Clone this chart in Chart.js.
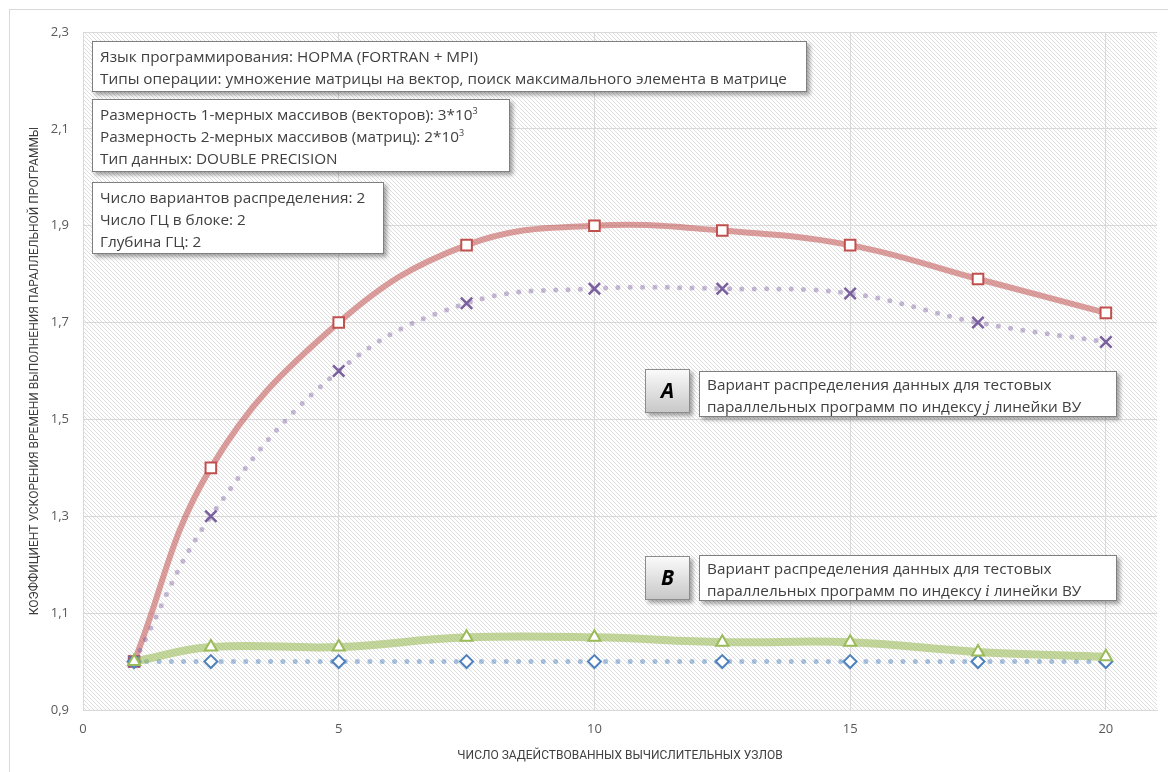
<!DOCTYPE html>
<html>
<head>
<meta charset="utf-8">
<script src="https://cdn.jsdelivr.net/npm/chart.js@4"></script>
<style>
  body { margin: 0; background: #fff; }
  #wrap { position: relative; width: 1168px; height: 772px; overflow: hidden; }
  #frame { position: absolute; left: 9px; top: 9px; width: 1200px; height: 800px; border: 1px solid #d9d9d9; }
  canvas { position: absolute; left: 0; top: 0; }
  .box {
    position: absolute; background: #fff; border: 1px solid #7f7f7f;
    box-shadow: 3px 3px 4px rgba(0,0,0,0.35);
    font-family: "Open Sans", sans-serif; font-size: 15.3px; color: #404040;
    line-height: 22px; padding: 3px 0 0 7px; box-sizing: border-box; white-space: nowrap;
  }
  .box sup { font-size: 9px; line-height: 0; vertical-align: 6px; }
  .tag {
    position: absolute; border: 1px solid #8c8c8c; box-sizing: border-box;
    background: linear-gradient(#fafafa, #c8c8c8);
    box-shadow: 3px 3px 4px rgba(0,0,0,0.35);
    font-family: "Open Sans", sans-serif; font-weight: bold; font-style: italic;
    font-size: 21px; color: #000; text-align: center; line-height: 41px;
  }
  .m { font-family: "DejaVu Serif", serif; font-style: italic; font-size: 14px; }
</style>
</head>
<body>
<div id="wrap">
  <div id="frame"></div>
  <canvas id="chart" width="1168" height="772"></canvas>

  <div class="box" style="left:92px; top:41px; width:715px; height:51px;">
    Язык программирования: НОРМА (FORTRAN + MPI)<br>
    Типы операции: умножение матрицы на вектор, поиск максимального элемента в матрице
  </div>
  <div class="box" style="left:92px; top:99px; width:418px; height:73px;">
    Размерность 1-мерных массивов (векторов): 3*10<sup>3</sup><br>
    Размерность 2-мерных массивов (матриц): 2*10<sup>3</sup><br>
    Тип данных: DOUBLE PRECISION
  </div>
  <div class="box" style="left:92px; top:182px; width:292px; height:72px;">
    Число вариантов распределения: 2<br>
    Число ГЦ в блоке: 2<br>
    Глубина ГЦ: 2
  </div>

  <div class="tag" style="left:645px; top:369px; width:45px; height:44px;">A</div>
  <div class="box" style="left:699px; top:371px; width:418px; height:46px; padding-top:1px;">
    Вариант распределения данных для тестовых<br>
    параллельных программ по индексу <span class="m">j</span> линейки ВУ
  </div>
  <div class="tag" style="left:645px; top:556px; width:45px; height:44px;">B</div>
  <div class="box" style="left:699px; top:555px; width:418px; height:46px; padding-top:1px;">
    Вариант распределения данных для тестовых<br>
    параллельных программ по индексу <span class="m">i</span> линейки ВУ
  </div>
</div>

<script>
// узлы (ось X)
const nodes = [1, 2.5, 5, 7.5, 10, 12.5, 15, 17.5, 20];

// коэффициент ускорения, вариант A (индекс j)
const seriesA1 = [1.00, 1.40, 1.70, 1.86, 1.90, 1.89, 1.86, 1.79, 1.72];
const seriesA2 = [1.00, 1.30, 1.60, 1.74, 1.77, 1.77, 1.76, 1.70, 1.66];
// вариант B (индекс i)
const seriesB1 = [1.00, 1.03, 1.03, 1.05, 1.05, 1.04, 1.04, 1.02, 1.01];
const seriesB2 = [1.00, 1.00, 1.00, 1.00, 1.00, 1.00, 1.00, 1.00, 1.00];

const xTicks = [0, 5, 10, 15, 20];
const yTicks = [0.9, 1.1, 1.3, 1.5, 1.7, 1.9, 2.1, 2.3];

const xTitle = 'ЧИСЛО ЗАДЕЙСТВОВАННЫХ ВЫЧИСЛИТЕЛЬНЫХ УЗЛОВ';
const yTitle = 'КОЭФФИЦИЕНТ УСКОРЕНИЯ ВРЕМЕНИ ВЫПОЛНЕНИЯ ПАРАЛЛЕЛЬНОЙ ПРОГРАММЫ';

function toPoints(values) {
    return nodes.map((x, i) => ({ x: x, y: values[i] }));
}

// штриховка области построения
function makeHatch(ctx) {
    const c = document.createElement('canvas');
    c.width = 4;
    c.height = 4;
    const p = c.getContext('2d');
    p.fillStyle = '#ffffff';
    p.fillRect(0, 0, 4, 4);
    p.strokeStyle = '#dedede';
    p.lineWidth = 1;
    p.beginPath();
    p.moveTo(-1, -1);
    p.lineTo(5, 5);
    p.stroke();
    return ctx.createPattern(c, 'repeat');
}

const hatchPlugin = {
    id: 'hatch',
    beforeDraw(chart) {
        const { ctx, chartArea } = chart;
        ctx.save();
        ctx.fillStyle = makeHatch(ctx);
        ctx.fillRect(chartArea.left, chartArea.top, chartArea.right - chartArea.left, chartArea.bottom - chartArea.top);
        ctx.restore();
    }
};

const ctx = document.getElementById('chart').getContext('2d');

new Chart(ctx, {
    type: 'line',
    data: {
        datasets: [
            {
                data: toPoints(seriesA1),
                borderColor: 'rgba(192, 80, 77, 0.55)',
                borderWidth: 6,
                tension: 0.4,
                pointStyle: 'rect',
                pointRadius: 7.5,
                pointBorderWidth: 2,
                pointBorderColor: '#c0504d',
                pointBackgroundColor: '#ffffff',
                order: 4
            },
            {
                data: toPoints(seriesA2),
                borderColor: 'rgba(128, 100, 162, 0.45)',
                borderWidth: 5,
                borderDash: [0, 12.4],
                borderCapStyle: 'round',
                tension: 0.4,
                pointStyle: 'crossRot',
                pointRadius: 8,
                pointBorderWidth: 2.5,
                pointBorderColor: '#7a5f9e',
                order: 3
            },
            {
                data: toPoints(seriesB2),
                borderColor: 'rgba(79, 129, 189, 0.5)',
                borderWidth: 5,
                borderDash: [0, 12.4],
                borderCapStyle: 'round',
                tension: 0.4,
                pointStyle: 'rectRot',
                pointRadius: 6.5,
                pointBorderWidth: 2,
                pointBorderColor: '#4f81bd',
                pointBackgroundColor: '#ffffff',
                order: 2
            },
            {
                data: toPoints(seriesB1),
                borderColor: 'rgba(155, 187, 89, 0.6)',
                borderWidth: 8,
                tension: 0.4,
                pointStyle: 'triangle',
                pointRadius: 7,
                pointBorderWidth: 2,
                pointBorderColor: '#9bbb59',
                pointBackgroundColor: '#ffffff',
                order: 1
            }
        ]
    },
    options: {
        responsive: false,
        animation: false,
        layout: { padding: { top: 32, right: 11, left: 0, bottom: 0 } },
        plugins: {
            legend: { display: false },
            tooltip: { enabled: false }
        },
        scales: {
            x: {
                type: 'linear',
                min: 0,
                max: 21,
                afterBuildTicks: scale => { scale.ticks = xTicks.map(v => ({ value: v })); },
                afterFit: scale => { scale.height = 62; },
                grid: { color: '#d9d9d9', drawTicks: false },
                border: { display: true, color: '#d9d9d9' },
                ticks: {
                    padding: 11,
                    color: '#595959',
                    font: { family: 'Open Sans', size: 13 }
                },
                title: {
                    display: true,
                    text: xTitle,
                    color: '#404040',
                    font: { family: 'Roboto', size: 12 },
                    padding: { top: 0, bottom: 9 }
                }
            },
            y: {
                min: 0.9,
                max: 2.3,
                afterBuildTicks: scale => { scale.ticks = yTicks.map(v => ({ value: v })); },
                afterFit: scale => { scale.width = 83; },
                grid: { color: '#d9d9d9', drawTicks: false },
                border: { display: false },
                ticks: {
                    padding: 14,
                    color: '#595959',
                    font: { family: 'Open Sans', size: 13 },
                    callback: v => v.toFixed(1).replace('.', ',')
                },
                title: {
                    display: true,
                    text: yTitle,
                    color: '#404040',
                    font: { family: 'Roboto', size: 12 },
                    padding: { top: 28, bottom: 0 }
                }
            }
        }
    },
    plugins: [hatchPlugin]
});
</script>
</body>
</html>
